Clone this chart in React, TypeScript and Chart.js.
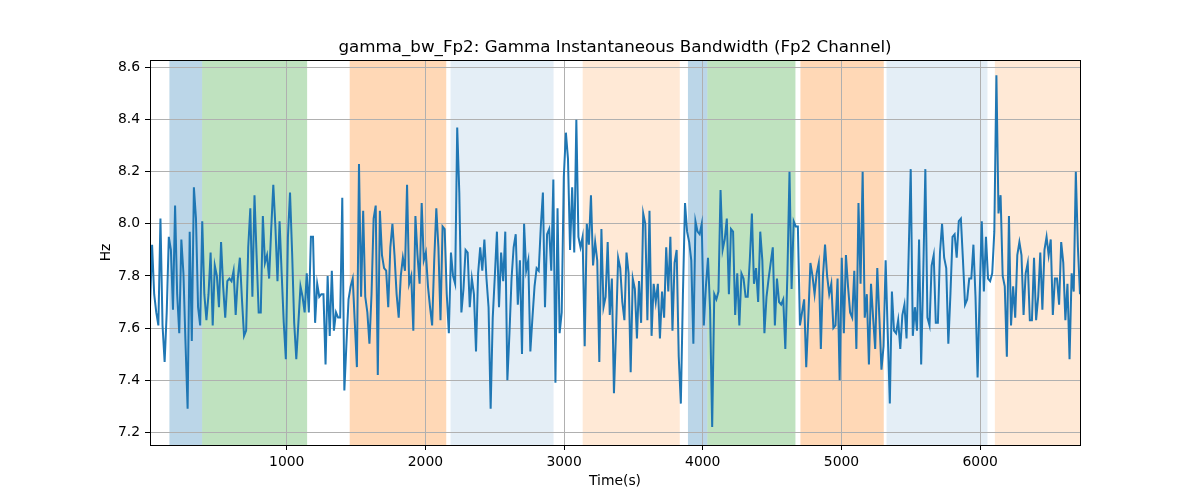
import { useEffect, useRef } from "react";
import { Chart, registerables } from "chart.js";

Chart.register(...registerables);

const TITLE = "gamma_bw_Fp2: Gamma Instantaneous Bandwidth (Fp2 Channel)";
const X_LABEL = "Time(s)";
const Y_LABEL = "Hz";

const T_START = 14;
const T_END = 6720;

const VALUES = [
  7.68, 7.92, 7.73, 7.66, 7.61, 8.02, 7.61, 7.47, 7.66, 7.95,
  7.90, 7.67, 8.07, 7.73, 7.58, 7.94, 7.81, 7.54, 7.29, 7.97,
  7.55, 8.14, 8.02, 7.68, 7.61, 8.01, 7.73, 7.63, 7.73, 7.89,
  7.61, 7.84, 7.80, 7.68, 7.93, 7.76, 7.64, 7.78, 7.79, 7.78,
  7.82, 7.65, 7.79, 7.87, 7.71, 7.57, 7.59, 7.91, 8.06, 7.72,
  8.11, 7.88, 7.66, 7.66, 8.03, 7.85, 7.88, 7.79, 7.98, 8.15,
  7.99, 7.78, 8.01, 7.81, 7.62, 7.48, 7.95, 8.12, 7.89, 7.62,
  7.48, 7.62, 7.76, 7.72, 7.66, 7.81, 7.66, 7.95, 7.95, 7.62,
  7.77, 7.72, 7.73, 7.73, 7.46, 7.80, 7.57, 7.82, 7.59, 7.66,
  7.64, 7.64, 8.10, 7.36, 7.54, 7.71, 7.76, 7.79, 7.62, 7.45,
  8.23, 7.72, 8.05, 7.72, 7.66, 7.54, 7.73, 8.02, 8.07, 7.42,
  8.05, 7.88, 7.83, 7.82, 7.68, 7.91, 8.00, 7.88, 7.73, 7.64,
  7.80, 7.87, 7.82, 8.15, 7.77, 7.80, 7.59, 8.03, 7.88, 7.77,
  8.08, 7.86, 7.89, 7.76, 7.68, 7.61, 7.86, 8.06, 7.91, 7.63,
  7.99, 7.98, 7.73, 7.58, 7.89, 7.80, 7.77, 8.37, 8.12, 7.66,
  7.75,
  7.90, 7.89, 7.68, 7.79, 7.73, 7.51, 7.81, 7.91, 7.82, 7.94,
  7.79, 7.68, 7.29, 7.64, 7.80, 7.97, 7.68, 7.89, 7.78, 7.97,
  7.40, 7.58, 7.79, 7.91, 7.96, 7.69, 7.86, 7.50, 8.00, 7.82,
  7.86, 7.51, 7.64, 7.76, 7.83, 7.82, 7.99, 8.12, 7.68, 7.96,
  7.98, 7.82, 8.17, 7.39, 8.06, 7.58, 7.66, 8.18, 8.35, 8.25,
  7.90,
  8.14, 7.89, 8.40, 7.95, 7.91, 7.95, 7.53, 8.00, 7.92, 8.11,
  7.84, 7.93, 7.86, 7.47, 7.98, 7.68, 7.72, 7.93, 7.65, 7.79,
  7.35, 7.59, 7.87, 7.83, 7.70, 7.63, 7.89, 7.81, 7.43, 7.79,
  7.75, 7.56, 7.78, 7.62, 8.04, 8.00, 7.63, 8.05, 7.57, 7.77,
  7.70, 7.77, 7.56, 7.74, 7.64, 7.91, 7.74, 7.95, 7.59, 7.85,
  7.90,
  7.49, 7.31, 7.73, 8.08, 7.97, 7.93, 7.86, 7.54, 8.01, 7.97,
  7.96, 8.00, 7.61, 7.76, 7.87, 7.67, 7.22, 7.73, 7.71, 7.74,
  8.13, 7.90, 7.94, 8.02, 7.73, 7.98, 7.97, 7.65, 7.81, 7.61,
  7.81, 7.79, 7.72, 7.72, 7.86, 8.04, 7.77, 7.83, 7.70, 7.97,
  7.86, 7.58, 7.72, 7.79, 7.85, 7.91, 7.61, 7.79, 7.70, 7.69,
  7.71,
  7.52, 7.81, 8.20, 7.75, 8.01, 7.99, 7.99, 7.61, 7.66, 7.71,
  7.45, 7.64, 7.85, 7.80, 7.73, 7.81, 7.85, 7.52, 7.80, 7.92,
  7.80, 7.73, 7.77, 7.60, 7.61, 7.79, 7.40, 7.87, 7.58, 7.88,
  7.76, 7.66, 7.64, 7.82, 7.52, 8.08, 7.77, 8.20, 7.64, 7.73,
  7.46, 7.77, 7.64, 7.52, 7.83, 7.64, 7.44, 7.53, 7.86, 7.58,
  7.31,
  7.74, 7.59, 7.58, 7.63, 7.52, 7.65, 7.69, 7.56, 7.88, 8.21,
  7.57, 7.68, 7.59, 7.94, 7.46, 7.81, 8.21, 7.64, 7.61, 7.84,
  7.88, 7.62, 7.62, 7.89, 8.00, 7.87, 7.83, 7.54, 7.73, 7.95,
  7.96, 7.87, 8.01, 8.02, 7.86, 7.69, 7.71, 7.79, 7.79, 7.92,
  7.72, 7.41, 7.73, 8.01, 7.74, 7.95, 7.79, 7.78, 7.81, 7.97,
  8.57, 8.04, 8.11, 7.80, 7.76, 7.49, 8.03, 7.61, 7.76, 7.64,
  7.88, 7.93, 7.88, 7.65, 7.81, 7.85, 7.63, 7.63, 7.87, 7.63,
  7.72, 7.89, 7.67, 7.90, 7.95, 7.88, 7.94, 7.65, 7.79, 7.79,
  7.69, 7.93, 7.85, 7.63, 7.77, 7.48, 7.81, 7.74, 8.20, 7.91,
  7.73,
];

const X_MIN = 14;
const X_MAX = 6720;
const Y_MIN = 7.151;
const Y_MAX = 8.629;
const X_TICKS = [1000, 2000, 3000, 4000, 5000, 6000];
const Y_TICKS = [7.2, 7.4, 7.6, 7.8, 8.0, 8.2, 8.4, 8.6];

// shaded intervals (seconds) and their kind
const SPAN_STARTS = [154, 390, 1454, 2181, 3134, 3893, 4033, 4704, 5325, 6106];
const SPAN_ENDS = [390, 1147, 2150, 2924, 3834, 4033, 4668, 5305, 6053, 6720];
const SPAN_KINDS = [
  "blue", "green", "orange", "lightblue", "lightorange",
  "blue", "green", "orange", "lightblue", "lightorange",
];

const SPAN_COLORS: Record<string, string> = {
  blue: "rgba(31,119,180,0.3)",
  green: "rgba(44,160,44,0.3)",
  orange: "rgba(255,127,14,0.3)",
  lightblue: "rgba(31,119,180,0.12)",
  lightorange: "rgba(255,127,14,0.17)",
};

const FONT = "'DejaVu Sans', sans-serif";

export default function App() {
  const ref = useRef<HTMLCanvasElement | null>(null);

  useEffect(() => {
    if (!ref.current) return;
    const n = VALUES.length;
    const step = (T_END - T_START) / (n - 1);
    const points = VALUES.map((v, i) => ({ x: T_START + i * step, y: v }));

    const spansPlugin = {
      id: "spans",
      beforeDraw(chart: any) {
        const { ctx, chartArea, scales } = chart;
        ctx.save();
        ctx.beginPath();
        ctx.rect(chartArea.left, chartArea.top, chartArea.right - chartArea.left, chartArea.bottom - chartArea.top);
        ctx.clip();
        for (let i = 0; i < SPAN_STARTS.length; i++) {
          const x0 = scales.x.getPixelForValue(SPAN_STARTS[i]);
          const x1 = scales.x.getPixelForValue(SPAN_ENDS[i]);
          ctx.fillStyle = SPAN_COLORS[SPAN_KINDS[i]];
          ctx.fillRect(x0, chartArea.top, x1 - x0, chartArea.bottom - chartArea.top);
        }
        ctx.restore();
      },
      afterDatasetsDraw(chart: any) {
        const { ctx, chartArea } = chart;
        ctx.save();
        ctx.strokeStyle = "#000";
        ctx.lineWidth = 1;
        ctx.strokeRect(
          Math.round(chartArea.left) + 0.5,
          Math.round(chartArea.top) + 0.5,
          Math.round(chartArea.right - chartArea.left),
          Math.round(chartArea.bottom - chartArea.top)
        );
        ctx.restore();
      },
      afterDraw(chart: any) {
        const { ctx, chartArea } = chart;
        ctx.save();
        ctx.fillStyle = "#000";
        ctx.font = `16.7px ${FONT}`;
        ctx.textAlign = "center";
        ctx.textBaseline = "alphabetic";
        ctx.fillText(TITLE, (chartArea.left + chartArea.right) / 2, 52);
        ctx.restore();
      },
    };

    const chart = new Chart(ref.current, {
      type: "line",
      data: {
        datasets: [
          {
            data: points,
            borderColor: "#1f77b4",
            borderWidth: 2,
            pointRadius: 0,
            tension: 0,
            fill: false,
          },
        ],
      },
      options: {
        animation: false,
        responsive: false,
        devicePixelRatio: 1,
        events: [],
        layout: { padding: { left: 0, right: 120, top: 60, bottom: 0 } },
        plugins: {
          legend: { display: false },
          tooltip: { enabled: false },
          title: { display: false },
        },
        scales: {
          x: {
            type: "linear",
            min: X_MIN,
            max: X_MAX,
            afterBuildTicks: (scale: any) => {
              scale.ticks = X_TICKS.map((v) => ({ value: v }));
            },
            afterFit: (scale: any) => {
              scale.height = 55;
            },
            grid: {
              color: "#b0b0b0",
              lineWidth: 1,
              tickColor: "#000",
              tickLength: 5,
            },
            border: { display: false },
            ticks: {
              autoSkip: false,
              maxRotation: 0,
              padding: 4,
              color: "#000",
              font: { family: FONT, size: 13.9 },
              callback: (v: any) => String(v),
            },
            title: {
              display: true,
              text: X_LABEL,
              color: "#000",
              font: { family: FONT, size: 13.9 },
              padding: { top: 0, bottom: 10.6 },
            },
          },
          y: {
            type: "linear",
            min: Y_MIN,
            max: Y_MAX,
            afterBuildTicks: (scale: any) => {
              scale.ticks = Y_TICKS.map((v) => ({ value: v }));
            },
            afterFit: (scale: any) => {
              scale.width = 150;
            },
            grid: {
              color: "#b0b0b0",
              lineWidth: 1,
              tickColor: "#000",
              tickLength: 5,
            },
            border: { display: false },
            ticks: {
              autoSkip: false,
              padding: 5,
              color: "#000",
              font: { family: FONT, size: 13.9 },
              callback: (v: any) => Number(v).toFixed(1),
            },
            title: {
              display: true,
              text: Y_LABEL,
              color: "#000",
              font: { family: FONT, size: 13.9 },
              padding: { top: 97.6, bottom: 0 },
            },
          },
        },
      },
      plugins: [spansPlugin],
    });

    return () => chart.destroy();
  }, []);

  return (
    <div style={{ position: "fixed", left: 0, top: 0, width: 1200, height: 500, background: "#fff" }}>
      <canvas ref={ref} width={1200} height={500} style={{ display: "block" }} />
    </div>
  );
}
